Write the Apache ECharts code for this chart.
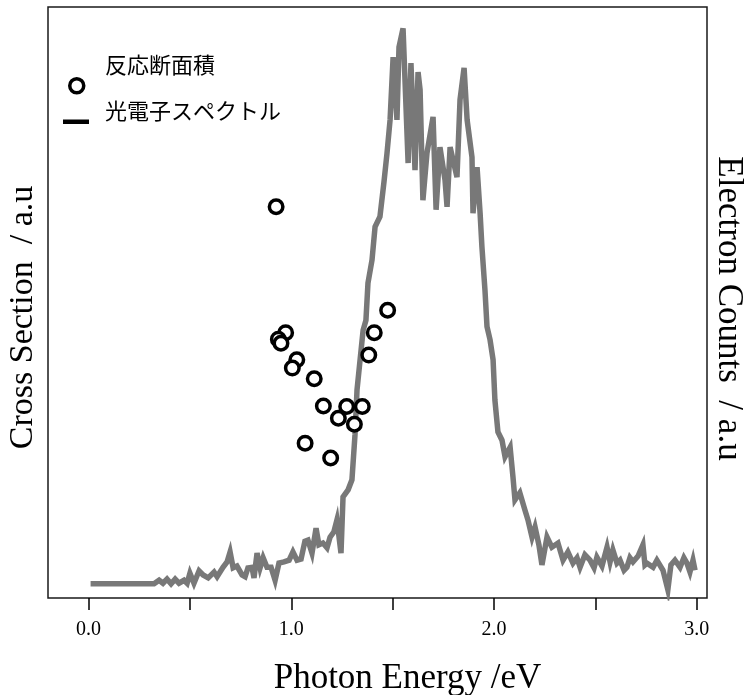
<!DOCTYPE html>
<html>
<head>
<meta charset="utf-8">
<script src="https://cdn.jsdelivr.net/npm/echarts@6/dist/echarts.min.js"></script>
<style>html,body{margin:0;padding:0;background:#fff}#c{width:752px;height:695px}</style>
</head>
<body>
<div id="c"></div>
<script>
// Photoelectron spectrum (photon energy eV, counts a.u.)
const specX = [0.01,0.323,0.348,0.367,0.387,0.407,0.427,0.446,0.471,0.486,0.500,0.520,0.545,0.565,0.590,0.619,0.634,0.663,0.683,0.698,0.713,0.732,0.757,0.772,0.786,0.806,0.816,0.831,0.846,0.861,0.880,0.900,0.920,0.939,0.964,0.989,1.008,1.028,1.048,1.067,1.082,1.102,1.122,1.136,1.156,1.176,1.191,1.210,1.225,1.245,1.255,1.280,1.299,1.314,1.324,1.354,1.368,1.378,1.398,1.413,1.437,1.457,1.472,1.487,1.502,1.521,1.531,1.551,1.576,1.590,1.610,1.625,1.635,1.649,1.669,1.699,1.714,1.733,1.758,1.768,1.783,1.817,1.832,1.852,1.867,1.891,1.896,1.916,1.931,1.940,1.955,1.965,1.980,1.995,2.004,2.019,2.039,2.054,2.079,2.093,2.103,2.127,2.152,2.167,2.187,2.202,2.221,2.236,2.261,2.285,2.315,2.340,2.364,2.389,2.409,2.424,2.448,2.473,2.493,2.507,2.532,2.557,2.572,2.586,2.606,2.621,2.641,2.655,2.670,2.685,2.710,2.734,2.744,2.754,2.784,2.803,2.833,2.857,2.872,2.892,2.917,2.936,2.951,2.966,2.981,2.991];
const specY = [2.4,2.4,3.0,2.5,3.2,2.4,3.2,2.5,3.0,2.5,4.2,2.5,4.6,3.9,3.4,4.4,3.6,5.2,6.1,7.8,5.1,5.4,3.9,3.6,5.1,5.2,3.4,7.6,5.1,6.8,5.2,5.2,3.0,5.9,6.1,6.4,7.8,6.4,6.6,9.6,9.8,7.6,11.8,9.0,9.3,8.5,10.3,11.2,13.2,7.6,17.1,18.3,20.0,27.6,35.2,45.3,47.0,53.3,57.2,62.8,64.5,70.4,75.3,80.9,91.5,80.9,93.2,96.4,73.6,90.5,72.4,89.0,86.0,67.3,75.3,81.4,65.7,76.3,70.7,66.2,76.3,71.2,84.3,89.7,80.9,74.6,65.1,72.9,65.1,59.4,52.1,45.9,43.7,40.3,33.5,28.1,26.7,23.9,25.5,20.5,16.6,17.8,14.9,13.2,10.3,12.0,9.0,5.6,10.3,8.6,9.3,6.4,7.8,5.9,6.8,5.2,7.3,6.4,5.1,6.9,5.4,8.6,6.1,8.1,5.9,6.4,4.7,5.2,6.8,6.1,7.1,9.0,5.6,5.9,5.2,6.4,4.7,1.4,5.6,6.4,5.2,6.8,5.9,4.4,6.4,4.7];
// Reaction cross section points
const csX = [0.925,1.475,1.409,1.382,0.972,0.936,0.949,1.027,1.005,1.113,1.158,1.273,1.350,1.232,1.311,1.068,1.194];
const csY = [66.2,48.7,44.9,41.1,44.9,43.8,43.1,40.3,38.9,37.1,32.5,32.4,32.4,30.4,29.4,26.2,23.7];
// Axis ticks
const tickValues = [0,0.5,1,1.5,2,2.5,3];
const labelValues = [0,1,2,3];
const seriesNames = ['反応断面積','光電子スペクトル'];
const axisNames = {x:'Photon Energy /eV', yLeft:'Cross Section  / a.u', yRight:'Electron Counts  / a.u'};

const specData = specX.map((x,i)=>[x,specY[i]]);
const csData = csX.map((x,i)=>[x,csY[i]]);

const serif = 'Liberation Serif, Times New Roman, serif';
const cjk = 'Noto Sans CJK JP, Noto Sans CJK SC, sans-serif';
const legendText = {fontFamily:cjk, fontSize:22, color:'#000'};

const chart = echarts.init(document.getElementById('c'), null, {renderer:'canvas'});
chart.setOption({
  animation:false,
  backgroundColor:'#fff',
  grid:{left:48, right:45, top:7, bottom:97, outerBoundsMode:'none', containLabel:false, show:true, borderColor:'#1a1a1a', borderWidth:1.5, backgroundColor:'transparent'},
  legend:[
    // icons
    {data:[{name:seriesNames[0], icon:'circle', itemStyle:{color:'#fff', borderColor:'#000', borderWidth:3.5}}],
     formatter:()=>'', left:68, top:77, padding:0, itemWidth:14, itemHeight:14, selectedMode:false, textStyle:legendText},
    {data:[{name:seriesNames[1], icon:'rect', itemStyle:{color:'#000', borderWidth:0}}],
     formatter:()=>'', left:63, top:119.5, padding:0, itemWidth:26, itemHeight:4.5, selectedMode:false, textStyle:legendText},
    // texts
    {data:[{name:seriesNames[0], icon:'rect', itemStyle:{color:'rgba(0,0,0,0)', borderWidth:0}}],
     left:100, top:54, padding:0, itemWidth:0, itemHeight:0, selectedMode:false, textStyle:legendText},
    {data:[{name:seriesNames[1], icon:'rect', itemStyle:{color:'rgba(0,0,0,0)', borderWidth:0}}],
     left:100, top:100, padding:0, itemWidth:0, itemHeight:0, selectedMode:false, textStyle:legendText}
  ],
  xAxis:{
    type:'value', min:-0.2, max:3.05, offset:3,
    axisLine:{show:false},
    axisTick:{show:true, customValues:tickValues, length:12, lineStyle:{color:'#000', width:1.5}},
    axisLabel:{show:true, customValues:labelValues, formatter:v=>Number(v).toFixed(1), fontFamily:serif, fontSize:20, color:'#000', margin:19},
    splitLine:{show:false},
    name:axisNames.x, nameLocation:'middle', nameGap:60,
    nameTextStyle:{fontFamily:serif, fontSize:35, color:'#000', padding:[0,0,0,60]}
  },
  yAxis:[
    {type:'value', min:0, max:100, position:'left',
     axisLine:{show:false}, axisTick:{show:false}, axisLabel:{show:false}, splitLine:{show:false},
     name:axisNames.yLeft, nameLocation:'middle', nameGap:8,
     nameTextStyle:{fontFamily:serif, fontSize:34, color:'#000', padding:[0,30,0,0]}},
    {type:'value', min:0, max:100, position:'right',
     axisLine:{show:false}, axisTick:{show:false}, axisLabel:{show:false}, splitLine:{show:false},
     name:axisNames.yRight, nameLocation:'middle', nameGap:4, nameRotate:-90,
     nameTextStyle:{fontFamily:serif, fontSize:35, color:'#000', padding:[0,0,0,12]}}
  ],
  series:[
    {name:seriesNames[1], type:'line', yAxisIndex:1, data:specData, symbol:'none', z:2,
     lineStyle:{color:'#787878', width:5.5, join:'miter', miterLimit:6}},
    {name:seriesNames[0], type:'scatter', yAxisIndex:0, data:csData, symbol:'circle', symbolSize:13.5, symbolKeepAspect:true, z:3,
     itemStyle:{color:'#fff', borderColor:'#000', borderWidth:3.5, opacity:1}}
  ]
});
</script>
</body>
</html>
